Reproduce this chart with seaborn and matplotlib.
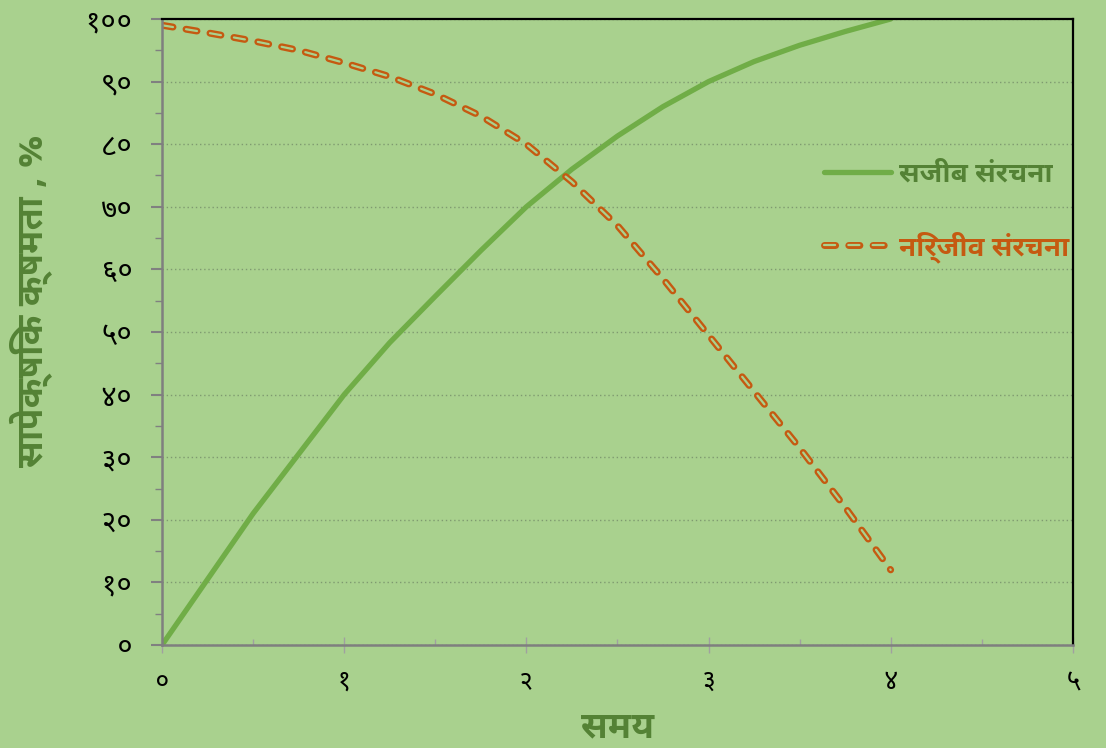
import seaborn as sns
from matplotlib import pyplot as plt
from matplotlib import patheffects as pe
import matplotlib.font_manager as fm
from fontTools.ttLib import TTFont
import pandas as pd

# values
time = [0, 0.25, 0.5, 0.75, 1, 1.25, 1.5, 1.75, 2, 2.25, 2.5, 2.75, 3, 3.25, 3.5, 3.75, 4]
living = [0, 10.5, 21, 30.5, 40, 48.3, 55.7, 63, 70, 76, 81.3, 86, 90, 93.2, 95.8, 98, 100]
nonliving = [99, 97.8, 96.5, 95, 93, 90.8, 88, 84.5, 80, 74, 67, 58.5, 49.5, 40.5, 31.5, 22, 12]

living_label = "सजीब संरचना"
nonliving_label = "निर्जीव संरचना"
x_title = "समय"
y_title = "सापेक्षिक क्षमता , %"
x_ticks = [0, 1, 2, 3, 4, 5]
x_tick_labels = ["०", "१", "२", "३", "४", "५"]
y_ticks = [0, 10, 20, 30, 40, 50, 60, 70, 80, 90, 100]
y_tick_labels = ["०", "१०", "२०", "३०", "४०", "५०", "६०", "७०", "८०", "९०", "१००"]


# find an installed font that has Devanagari glyphs, avoid monospaced ones
def find_devanagari_font():
    found = []
    for f in fm.fontManager.ttflist:
        try:
            cmap = TTFont(f.fname, fontNumber=0, lazy=True).getBestCmap()
        except Exception:
            continue
        if cmap and ord("स") in cmap and ord("१") in cmap:
            found.append(f.name)
    prefs = ["Noto Sans Devanagari", "Mukta", "Lohit", "FreeSans", "Gargi", "Kalimati"]
    for p in prefs:
        for name in found:
            if name.startswith(p):
                return name
    for name in found:
        if "Mono" not in name:
            return name
    return found[0] if found else None


dev_font = find_devanagari_font()
families = [dev_font, "DejaVu Sans"] if dev_font else ["DejaVu Sans"]

bg = "#a9d18e"
green = "#70ad47"
dark_green = "#548235"
orange = "#c55a11"

sns.set_style("white")
plt.rcParams["font.family"] = families
plt.rcParams["lines.scale_dashes"] = False

df = pd.DataFrame({"time": time, "living": living, "nonliving": nonliving})

fig = plt.figure(figsize=(11.06, 7.48), dpi=100, facecolor=bg)
ax = fig.add_axes([0.1465, 0.1377, 0.8235, 0.8369])
ax.set_facecolor(bg)

sns.lineplot(x="time", y="living", data=df, ax=ax, color=green, linewidth=3.8,
             label=living_label, solid_capstyle="round", solid_joinstyle="round")
sns.lineplot(x="time", y="nonliving", data=df, ax=ax, color=bg, linewidth=1.6,
             linestyle=(0, (8, 9.5)), dash_capstyle="round", label=nonliving_label,
             path_effects=[pe.Stroke(linewidth=5.0, foreground=orange), pe.Normal()])

ax.set_xlim(0, 5)
ax.set_ylim(0, 100)
ax.set_xticks(x_ticks)
ax.set_xticklabels(x_tick_labels, fontsize=19)
ax.set_yticks(y_ticks)
ax.set_yticklabels(y_tick_labels, fontsize=21)
ax.set_xticks([0.5, 1.5, 2.5, 3.5, 4.5], minor=True)
ax.set_yticks(list(range(5, 100, 10)), minor=True)

ax.tick_params(axis="y", which="major", direction="out", length=8, width=1.5,
               color="#808080", pad=13, labelcolor="black", left=True)
ax.tick_params(axis="y", which="minor", direction="out", length=5, width=1,
               color="#808080", left=True)
ax.tick_params(axis="x", which="major", direction="inout", length=12, width=1,
               color="#a0a0a0", pad=11, labelcolor="black", bottom=True)
ax.tick_params(axis="x", which="minor", direction="in", length=4, width=1,
               color="#a0a0a0", bottom=True)

ax.grid(axis="y", which="major", linestyle=(0, (1, 2)), color="#7f9a70", linewidth=1)
ax.set_axisbelow(True)

for side in ["left", "bottom"]:
    ax.spines[side].set_color("#7f7f7f")
    ax.spines[side].set_linewidth(1.8)
for side in ["top", "right"]:
    ax.spines[side].set_color("black")
    ax.spines[side].set_linewidth(1.6)

ax.set_xlabel(x_title, fontsize=26, color=dark_green, fontweight="bold")
ax.xaxis.set_label_coords(0.5, -0.105)
ax.set_ylabel(y_title, fontsize=26, color=dark_green, fontweight="bold")
ax.yaxis.set_label_coords(-0.12, 0.55)

leg = ax.legend(loc="upper left", bbox_to_anchor=(0.727, 0.775), frameon=False,
                fontsize=20, handlelength=2.4, handletextpad=0.3, labelspacing=1.55,
                borderpad=0, borderaxespad=0)
for text, col in zip(leg.get_texts(), [dark_green, orange]):
    text.set_color(col)
    text.set_fontweight("bold")

plt.savefig("out.png", dpi=100, facecolor=bg)
plt.close()
